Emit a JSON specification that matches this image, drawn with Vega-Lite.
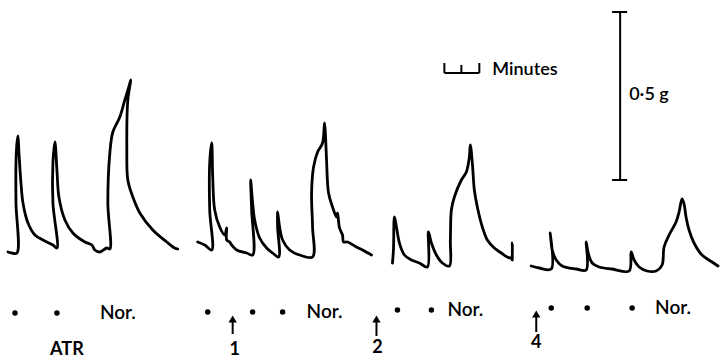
{
  "$schema": "https://vega.github.io/schema/vega-lite/v6.json",
  "autosize": {"type": "fit", "contains": "padding"},
  "width": 720,
  "height": 359,
  "padding": 0,
  "background": "white",
  "config": {"view": {"stroke": null}},
  "datasets": {
    "traces": [
      {"s":"A","i":1,"t":8,"v":252},{"s":"A","i":2,"t":12,"v":253},{"s":"A","i":3,"t":17,"v":253},{"s":"A","i":4,"t":16,"v":203},{"s":"A","i":5,"t":16,"v":163},{"s":"A","i":6,"t":17,"v":143},{"s":"A","i":7,"t":18,"v":136},{"s":"A","i":8,"t":19,"v":153},{"s":"A","i":9,"t":21,"v":183},{"s":"A","i":10,"t":23,"v":203},{"s":"A","i":11,"t":28,"v":223},{"s":"A","i":12,"t":35,"v":235},{"s":"A","i":13,"t":43,"v":240},{"s":"A","i":14,"t":53,"v":245},{"s":"A","i":15,"t":57,"v":248},{"s":"A","i":16,"t":53,"v":203},{"s":"A","i":17,"t":53,"v":163},{"s":"A","i":18,"t":55,"v":142},{"s":"A","i":19,"t":57,"v":170},{"s":"A","i":20,"t":59,"v":197},{"s":"A","i":21,"t":65,"v":220},{"s":"A","i":22,"t":73,"v":233},{"s":"A","i":23,"t":85,"v":242},{"s":"A","i":24,"t":92,"v":245},{"s":"A","i":25,"t":95,"v":250},{"s":"A","i":26,"t":100,"v":252},{"s":"A","i":27,"t":107,"v":248},{"s":"A","i":28,"t":110,"v":249},{"s":"A","i":29,"t":108,"v":203},{"s":"A","i":30,"t":110,"v":153},{"s":"A","i":31,"t":113,"v":132},{"s":"A","i":32,"t":120,"v":117},{"s":"A","i":33,"t":125,"v":100},{"s":"A","i":34,"t":129,"v":87},{"s":"A","i":35,"t":131,"v":80},{"s":"A","i":36,"t":128,"v":100},{"s":"A","i":37,"t":127,"v":150},{"s":"A","i":38,"t":128,"v":180},{"s":"A","i":39,"t":133,"v":197},{"s":"A","i":40,"t":140,"v":213},{"s":"A","i":41,"t":153,"v":230},{"s":"A","i":42,"t":167,"v":242},{"s":"A","i":43,"t":175,"v":248},{"s":"A","i":44,"t":178,"v":249},
      {"s":"B","i":1,"t":198,"v":242},{"s":"B","i":2,"t":205,"v":245},{"s":"B","i":3,"t":212,"v":250},{"s":"B","i":4,"t":210,"v":210},{"s":"B","i":5,"t":210,"v":163},{"s":"B","i":6,"t":212,"v":143},{"s":"B","i":7,"t":213,"v":177},{"s":"B","i":8,"t":215,"v":210},{"s":"B","i":9,"t":220,"v":227},{"s":"B","i":10,"t":225,"v":235},{"s":"B","i":11,"t":227,"v":228},{"s":"B","i":12,"t":227,"v":240},{"s":"B","i":13,"t":230,"v":242},{"s":"B","i":14,"t":232,"v":245},{"s":"B","i":15,"t":237,"v":250},{"s":"B","i":16,"t":247,"v":253},{"s":"B","i":17,"t":253,"v":255},{"s":"B","i":18,"t":252,"v":210},{"s":"B","i":19,"t":251,"v":180},{"s":"B","i":20,"t":253,"v":203},{"s":"B","i":21,"t":255,"v":220},{"s":"B","i":22,"t":260,"v":238},{"s":"B","i":23,"t":267,"v":248},{"s":"B","i":24,"t":273,"v":253},{"s":"B","i":25,"t":279,"v":257},{"s":"B","i":26,"t":278,"v":227},{"s":"B","i":27,"t":278,"v":212},{"s":"B","i":28,"t":280,"v":227},{"s":"B","i":29,"t":283,"v":240},{"s":"B","i":30,"t":290,"v":250},{"s":"B","i":31,"t":300,"v":255},{"s":"B","i":32,"t":313,"v":257},{"s":"B","i":33,"t":313,"v":227},{"s":"B","i":34,"t":312,"v":193},{"s":"B","i":35,"t":314,"v":167},{"s":"B","i":36,"t":318,"v":152},{"s":"B","i":37,"t":323,"v":143},{"s":"B","i":38,"t":325,"v":123},{"s":"B","i":39,"t":326,"v":137},{"s":"B","i":40,"t":327,"v":160},{"s":"B","i":41,"t":329,"v":193},{"s":"B","i":42,"t":333,"v":207},{"s":"B","i":43,"t":337,"v":217},{"s":"B","i":44,"t":338,"v":213},{"s":"B","i":45,"t":340,"v":228},{"s":"B","i":46,"t":343,"v":235},{"s":"B","i":47,"t":344,"v":242},{"s":"B","i":48,"t":348,"v":242},{"s":"B","i":49,"t":357,"v":247},{"s":"B","i":50,"t":363,"v":250},{"s":"B","i":51,"t":372,"v":255},
      {"s":"C","i":1,"t":393,"v":263},{"s":"C","i":2,"t":394,"v":250},{"s":"C","i":3,"t":395,"v":217},{"s":"C","i":4,"t":397,"v":227},{"s":"C","i":5,"t":400,"v":243},{"s":"C","i":6,"t":405,"v":255},{"s":"C","i":7,"t":412,"v":260},{"s":"C","i":8,"t":420,"v":263},{"s":"C","i":9,"t":428,"v":267},{"s":"C","i":10,"t":429,"v":232},{"s":"C","i":11,"t":432,"v":243},{"s":"C","i":12,"t":437,"v":255},{"s":"C","i":13,"t":443,"v":263},{"s":"C","i":14,"t":450,"v":266},{"s":"C","i":15,"t":451,"v":240},{"s":"C","i":16,"t":452,"v":210},{"s":"C","i":17,"t":455,"v":197},{"s":"C","i":18,"t":462,"v":180},{"s":"C","i":19,"t":467,"v":172},{"s":"C","i":20,"t":470,"v":157},{"s":"C","i":21,"t":471,"v":145},{"s":"C","i":22,"t":473,"v":163},{"s":"C","i":23,"t":475,"v":190},{"s":"C","i":24,"t":478,"v":207},{"s":"C","i":25,"t":483,"v":227},{"s":"C","i":26,"t":488,"v":240},{"s":"C","i":27,"t":495,"v":248},{"s":"C","i":28,"t":502,"v":253},{"s":"C","i":29,"t":508,"v":257},{"s":"C","i":30,"t":512,"v":258},{"s":"C","i":31,"t":513,"v":243},{"s":"C","i":32,"t":513,"v":260},
      {"s":"D","i":1,"t":532,"v":266},{"s":"D","i":2,"t":540,"v":268},{"s":"D","i":3,"t":552,"v":269},{"s":"D","i":4,"t":551,"v":233},{"s":"D","i":5,"t":553,"v":250},{"s":"D","i":6,"t":557,"v":260},{"s":"D","i":7,"t":563,"v":266},{"s":"D","i":8,"t":577,"v":269},{"s":"D","i":9,"t":587,"v":270},{"s":"D","i":10,"t":587,"v":242},{"s":"D","i":11,"t":589,"v":253},{"s":"D","i":12,"t":593,"v":263},{"s":"D","i":13,"t":600,"v":267},{"s":"D","i":14,"t":613,"v":269},{"s":"D","i":15,"t":630,"v":271},{"s":"D","i":16,"t":632,"v":252},{"s":"D","i":17,"t":635,"v":260},{"s":"D","i":18,"t":640,"v":267},{"s":"D","i":19,"t":648,"v":271},{"s":"D","i":20,"t":657,"v":271},{"s":"D","i":21,"t":663,"v":265},{"s":"D","i":22,"t":665,"v":247},{"s":"D","i":23,"t":670,"v":235},{"s":"D","i":24,"t":677,"v":222},{"s":"D","i":25,"t":680,"v":212},{"s":"D","i":26,"t":683,"v":199},{"s":"D","i":27,"t":685,"v":204},{"s":"D","i":28,"t":687,"v":217},{"s":"D","i":29,"t":690,"v":230},{"s":"D","i":30,"t":695,"v":243},{"s":"D","i":31,"t":703,"v":255},{"s":"D","i":32,"t":713,"v":262},{"s":"D","i":33,"t":719,"v":266}
    ],
    "rules": [
      {"t":621,"v":12,"t2":621,"v2":180},
      {"t":613,"v":12,"t2":628,"v2":12},
      {"t":613,"v":180,"t2":628,"v2":180},
      {"t":445,"v":73,"t2":480,"v2":73},
      {"t":445,"v":63,"t2":445,"v2":73},
      {"t":462,"v":65,"t2":462,"v2":73},
      {"t":480,"v":63,"t2":480,"v2":73},
      {"t":233,"v":320,"t2":233,"v2":334},
      {"t":377,"v":320,"t2":377,"v2":336},
      {"t":537,"v":315,"t2":537,"v2":332}
    ],
    "heads": [
      {"t":233,"v":319},{"t":377,"v":319},{"t":537,"v":314}
    ],
    "dots": [
      {"t":15,"v":313},{"t":57,"v":313},{"t":208,"v":312},{"t":253,"v":312},{"t":283,"v":312},
      {"t":398,"v":310},{"t":432,"v":310},{"t":552,"v":308},{"t":588,"v":308},{"t":633,"v":308}
    ],
    "labels": [
      {"t":118,"v":313,"txt":"Nor."},{"t":325,"v":312,"txt":"Nor."},{"t":466,"v":310,"txt":"Nor."},{"t":674,"v":308,"txt":"Nor."}
    ],
    "marks": [
      {"t":67,"v":350,"txt":"ATR"},{"t":235,"v":350,"txt":"1"},{"t":378,"v":348,"txt":"2"},{"t":537,"v":343,"txt":"4"}
    ],
    "keys": [
      {"t":493,"v":70,"txt":"Minutes"},{"t":630,"v":95,"txt":"0·5 g"}
    ]
  },
  "layer": [
    {
      "data": {"name": "traces"},
      "mark": {"type": "line", "color": "black", "strokeWidth": 2.8, "strokeJoin": "round", "strokeCap": "round", "interpolate": "catmull-rom"},
      "encoding": {
        "x": {"field": "t", "type": "quantitative", "scale": {"domain": [0, 720], "nice": false, "zero": false}, "axis": null},
        "y": {"field": "v", "type": "quantitative", "scale": {"domain": [0, 359], "nice": false, "zero": false, "reverse": true}, "axis": null},
        "detail": {"field": "s"},
        "order": {"field": "i", "type": "quantitative"}
      }
    },
    {
      "data": {"name": "rules"},
      "mark": {"type": "rule", "color": "black", "strokeWidth": 2},
      "encoding": {
        "x": {"field": "t", "type": "quantitative"},
        "y": {"field": "v", "type": "quantitative"},
        "x2": {"field": "t2"},
        "y2": {"field": "v2"}
      }
    },
    {
      "data": {"name": "heads"},
      "mark": {"type": "point", "shape": "triangle-up", "filled": true, "color": "black", "size": 70, "opacity": 1},
      "encoding": {
        "x": {"field": "t", "type": "quantitative"},
        "y": {"field": "v", "type": "quantitative"}
      }
    },
    {
      "data": {"name": "dots"},
      "mark": {"type": "circle", "color": "black", "size": 30, "opacity": 1},
      "encoding": {
        "x": {"field": "t", "type": "quantitative"},
        "y": {"field": "v", "type": "quantitative"}
      }
    },
    {
      "data": {"name": "labels"},
      "mark": {"type": "text", "font": "Lato", "fontSize": 19, "fontWeight": 600, "align": "center", "baseline": "middle", "color": "black"},
      "encoding": {
        "x": {"field": "t", "type": "quantitative"},
        "y": {"field": "v", "type": "quantitative"},
        "text": {"field": "txt"}
      }
    },
    {
      "data": {"name": "marks"},
      "mark": {"type": "text", "font": "Lato", "fontSize": 18, "fontWeight": "bold", "align": "center", "baseline": "middle", "color": "black"},
      "encoding": {
        "x": {"field": "t", "type": "quantitative"},
        "y": {"field": "v", "type": "quantitative"},
        "text": {"field": "txt"}
      }
    },
    {
      "data": {"name": "keys"},
      "mark": {"type": "text", "font": "Lato", "fontSize": 18, "fontWeight": 600, "align": "left", "baseline": "middle", "color": "black"},
      "encoding": {
        "x": {"field": "t", "type": "quantitative"},
        "y": {"field": "v", "type": "quantitative"},
        "text": {"field": "txt"}
      }
    }
  ]
}
